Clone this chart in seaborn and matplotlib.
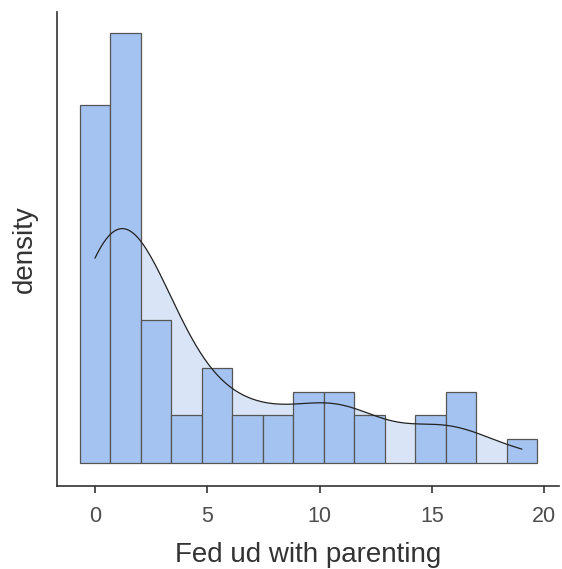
import numpy as np
import pandas as pd
import matplotlib
matplotlib.use("Agg")
import matplotlib.pyplot as plt
import seaborn as sns

# Observed values and how often each occurs
values = [0, 1, 2, 3, 4, 5, 6, 7, 8, 10, 11, 12, 15, 16, 19]
counts = [15, 9, 9, 6, 2, 2, 2, 2, 2, 3, 3, 2, 2, 3, 1]
x_ticks = [0, 5, 10, 15, 20]
x_label = "Fed ud with parenting"
y_label = "density"

df = pd.DataFrame({"parenting": np.repeat(values, counts)})

sns.set_theme(style="white")
plt.rcParams["font.family"] = ["Liberation Sans", "DejaVu Sans"]

n_bins = 15
lo, hi = df["parenting"].min(), df["parenting"].max()
width = (hi - lo) / (n_bins - 1)
edges = lo - width / 2 + width * np.arange(n_bins + 1)

fig = plt.figure(figsize=(5.62, 5.69), dpi=100)
ax = fig.add_axes([0.1014, 0.146, 0.894, 0.833])

bar_color = "#a5c3f0"
fill_color = "#d9e5f6"

sns.histplot(
    data=df, x="parenting", bins=edges, kde=True,
    kde_kws={"cut": 0, "bw_adjust": 0.83},
    color=bar_color, alpha=1, edgecolor="#555555", linewidth=0.9,
    line_kws={"color": "#222222", "linewidth": 0.9}, ax=ax,
)
kde_line = ax.lines[0]
kde_line.set_color("#222222")
kde_line.set_zorder(3)
kx, ky = kde_line.get_data()
ax.fill_between(kx, 0, ky, color=fill_color, linewidth=0, zorder=0.5)
for p in ax.patches:
    p.set_zorder(1)

ax.set_xlim(-1.69, 20.67)
ax.set_ylim(-0.95, 18.9)
ax.set_xticks(x_ticks)
ax.set_yticks([])
ax.set_xlabel(x_label, fontsize=20, color="#333333", labelpad=11)
ax.set_ylabel(y_label, fontsize=20, color="#333333", labelpad=14)
ax.tick_params(axis="x", bottom=True, length=5, width=1.2, color="#333333",
               labelsize=15.5, labelcolor="#4d4d4d", pad=9.5)
for side in ["top", "right"]:
    ax.spines[side].set_visible(False)
for side in ["left", "bottom"]:
    ax.spines[side].set_color("#333333")
    ax.spines[side].set_linewidth(1.2)

fig.savefig("out.png", dpi=100)
